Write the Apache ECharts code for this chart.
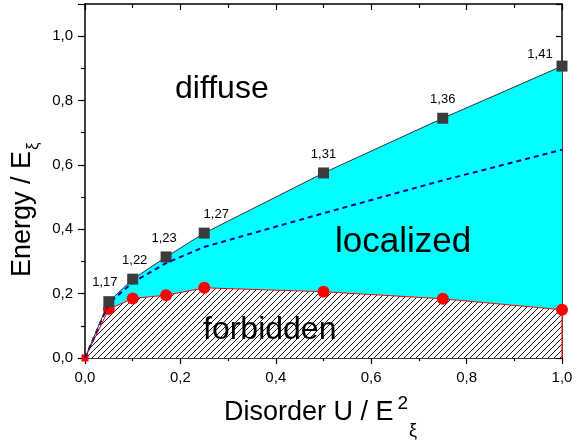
<!DOCTYPE html>
<html><head><meta charset="utf-8">
<script src="https://cdn.jsdelivr.net/npm/echarts@6/dist/echarts.min.js"></script>
<style>html,body{margin:0;padding:0;background:#fff}#c{width:582px;height:443px}</style>
</head><body><div id="c"></div>
<script>
// ---- data ----
const xUpper = [0.05, 0.10, 0.17, 0.25, 0.50, 0.75, 1.00];
const upperE = [0.175, 0.245, 0.314, 0.388, 0.575, 0.745, 0.907];
const upperLabels = ['1,17', '1,22', '1,23', '1,27', '1,31', '1,36', '1,41'];
const xLower = [0, 0.05, 0.10, 0.17, 0.25, 0.50, 0.75, 1.00];
const lowerE = [0, 0.152, 0.185, 0.195, 0.218, 0.206, 0.184, 0.150];
const xMid = [0, 0.05, 0.10, 0.17, 0.25, 0.50, 0.75, 1.00];
const midE = [0, 0.170, 0.235, 0.295, 0.345, 0.450, 0.552, 0.647];
const regionNames = ['diffuse', 'localized', 'forbidden'];
const xTitle = ['Disorder U / E', '2', 'ξ'];
const yTitle = ['Energy / E', 'ξ'];

// ---- styling ----
const FONT = "'Liberation Sans', Arial, sans-serif";
const labelOffsets = [[-4,0],[2,0],[-2,0],[12,0],[0,0],[0,0],[-22,7]];
function hatch() {
  const p = 6;
  const c = document.createElement('canvas'); c.width = p; c.height = p;
  const g = c.getContext('2d');
  g.fillStyle = '#fff'; g.fillRect(0, 0, p, p);
  g.strokeStyle = '#1a1a1a'; g.lineWidth = 1;
  g.beginPath();
  g.moveTo(0, p); g.lineTo(p, 0);
  g.moveTo(-1, 1); g.lineTo(1, -1);
  g.moveTo(p - 1, p + 1); g.lineTo(p + 1, p - 1);
  g.stroke();
  return c;
}
function tw(text, size) {
  const g = document.createElement('canvas').getContext('2d');
  g.font = size + 'px ' + FONT;
  return g.measureText(text).width;
}
const fmt = v => v.toFixed(1).replace('.', ',');

const upperPts = xUpper.map((x, i) => [x, upperE[i]]);
const lowerPts = xLower.map((x, i) => [x, lowerE[i]]);
const midPts = xMid.map((x, i) => [x, midE[i]]);

const chart = echarts.init(document.getElementById('c'), null, {renderer: 'canvas'});

const axisCommon = {
  type: 'value',
  axisLine: {show: true, onZero: false, lineStyle: {color: '#000', width: 1.5}},
  splitLine: {show: false},
};

const wMain = tw(xTitle[0], 27);
const wTwo = tw(xTitle[1], 19);
const wY = tw(yTitle[0], 27);

chart.setOption({
  animation: false,
  grid: {left: 85, right: 20, top: 4, bottom: 85},
  xAxis: [
    Object.assign({}, axisCommon, {
      position: 'bottom', min: 0, max: 1, interval: 0.2,
      axisTick: {show: true, inside: false, length: 6, lineStyle: {color: '#000', width: 1.2}},
      minorTick: {show: true, splitNumber: 2, length: 3, lineStyle: {color: '#000', width: 1.2}},
      axisLabel: {formatter: fmt, color: '#000', fontSize: 15, fontFamily: FONT, margin: 12}
    }),
    Object.assign({}, axisCommon, {
      position: 'top', min: 0, max: 1, interval: 0.2,
      axisTick: {show: true, inside: true, length: 6, lineStyle: {color: '#000', width: 1.2}},
      minorTick: {show: true, splitNumber: 2, length: 4, lineStyle: {color: '#000', width: 1.2}},
      axisLabel: {show: false}
    })
  ],
  yAxis: [
    Object.assign({}, axisCommon, {
      position: 'left', min: 0, max: 1.1, interval: 0.2,
      axisTick: {show: true, inside: false, length: 7, lineStyle: {color: '#000', width: 1.2}},
      minorTick: {show: true, splitNumber: 2, length: 4, lineStyle: {color: '#000', width: 1.2}},
      axisLabel: {formatter: fmt, color: '#000', fontSize: 15, fontFamily: FONT, margin: 12, showMaxLabel: false}
    }),
    Object.assign({}, axisCommon, {
      position: 'right', min: 0, max: 1.1, interval: 0.2,
      axisTick: {show: true, inside: true, length: 6, lineStyle: {color: '#000', width: 1.2}},
      minorTick: {show: true, splitNumber: 2, length: 4, lineStyle: {color: '#000', width: 1.2}},
      axisLabel: {show: false}
    })
  ],
  series: [
    { // localized region (cyan)
      type: 'line', z: 1, data: upperPts, symbol: 'none',
      lineStyle: {width: 0}, areaStyle: {color: '#00ffff', opacity: 1}, silent: true
    },
    { // forbidden region (hatched) + red line/circles
      type: 'line', z: 3, symbol: 'circle', symbolSize: 12,
      data: lowerPts.map((p, i) => i === 0 ? {value: p, symbol: 'rect', symbolSize: 7} : p)
        .concat([{value: [xLower[xLower.length - 1], 0], symbol: 'none'}]),
      itemStyle: {color: '#ff0000'},
      lineStyle: {color: '#ff0000', width: 1},
      areaStyle: {color: {image: hatch(), repeat: 'repeat'}, opacity: 1}
    },
    { // mobility edge (dashed)
      type: 'line', z: 4, data: midPts, symbol: 'none',
      lineStyle: {color: '#0000a0', width: 2, type: [5, 4]}
    },
    { // upper boundary with squares
      type: 'line', z: 5,
      data: [[0, 0]].concat(upperPts).map((p, i) => i === 0 ? {value: p, symbol: 'none'} : {
        value: p,
        label: {show: true, formatter: upperLabels[i - 1], offset: labelOffsets[i - 1]}
      }),
      symbol: 'rect', symbolSize: 11,
      itemStyle: {color: '#3c3c3c'},
      lineStyle: {color: '#333', width: 1},
      label: {position: 'top', distance: 7, color: '#000', fontSize: 13, fontFamily: FONT}
    }
  ],
  graphic: [
    {type: 'text', left: 175, top: 73, z: 100, style: {text: regionNames[0], font: '32px ' + FONT, fill: '#000'}},
    {type: 'text', left: 335, top: 225, z: 100, style: {text: regionNames[1], font: '35px ' + FONT, fill: '#000'}},
    {type: 'text', left: 203, top: 314, z: 100, style: {text: regionNames[2], font: '32px ' + FONT, fill: '#000'}},
    {type: 'text', x: 224, y: 412.6, z: 100, style: {text: xTitle[0], font: '27px ' + FONT, fill: '#000', verticalAlign: 'middle', align: 'left'}},
    {type: 'text', x: 224 + wMain + 4, y: 403.5, z: 100, style: {text: xTitle[1], font: '19px ' + FONT, fill: '#000', verticalAlign: 'middle', align: 'left'}},
    {type: 'text', x: 224 + wMain + 4 + wTwo + 1, y: 431, z: 100, style: {text: xTitle[2], font: '18px ' + FONT, fill: '#000', verticalAlign: 'middle', align: 'left'}},
    {type: 'group', x: 32.3, y: 277, rotation: Math.PI / 2, z: 100, children: [
      {type: 'text', x: 0, y: -9.4, style: {text: yTitle[0], font: '27px ' + FONT, fill: '#000', verticalAlign: 'middle', align: 'left'}},
      {type: 'text', x: wY + 1, y: 1.5, style: {text: yTitle[1], font: '17px ' + FONT, fill: '#000', verticalAlign: 'middle', align: 'left'}}
    ]}
  ]
});
</script>
</body></html>
